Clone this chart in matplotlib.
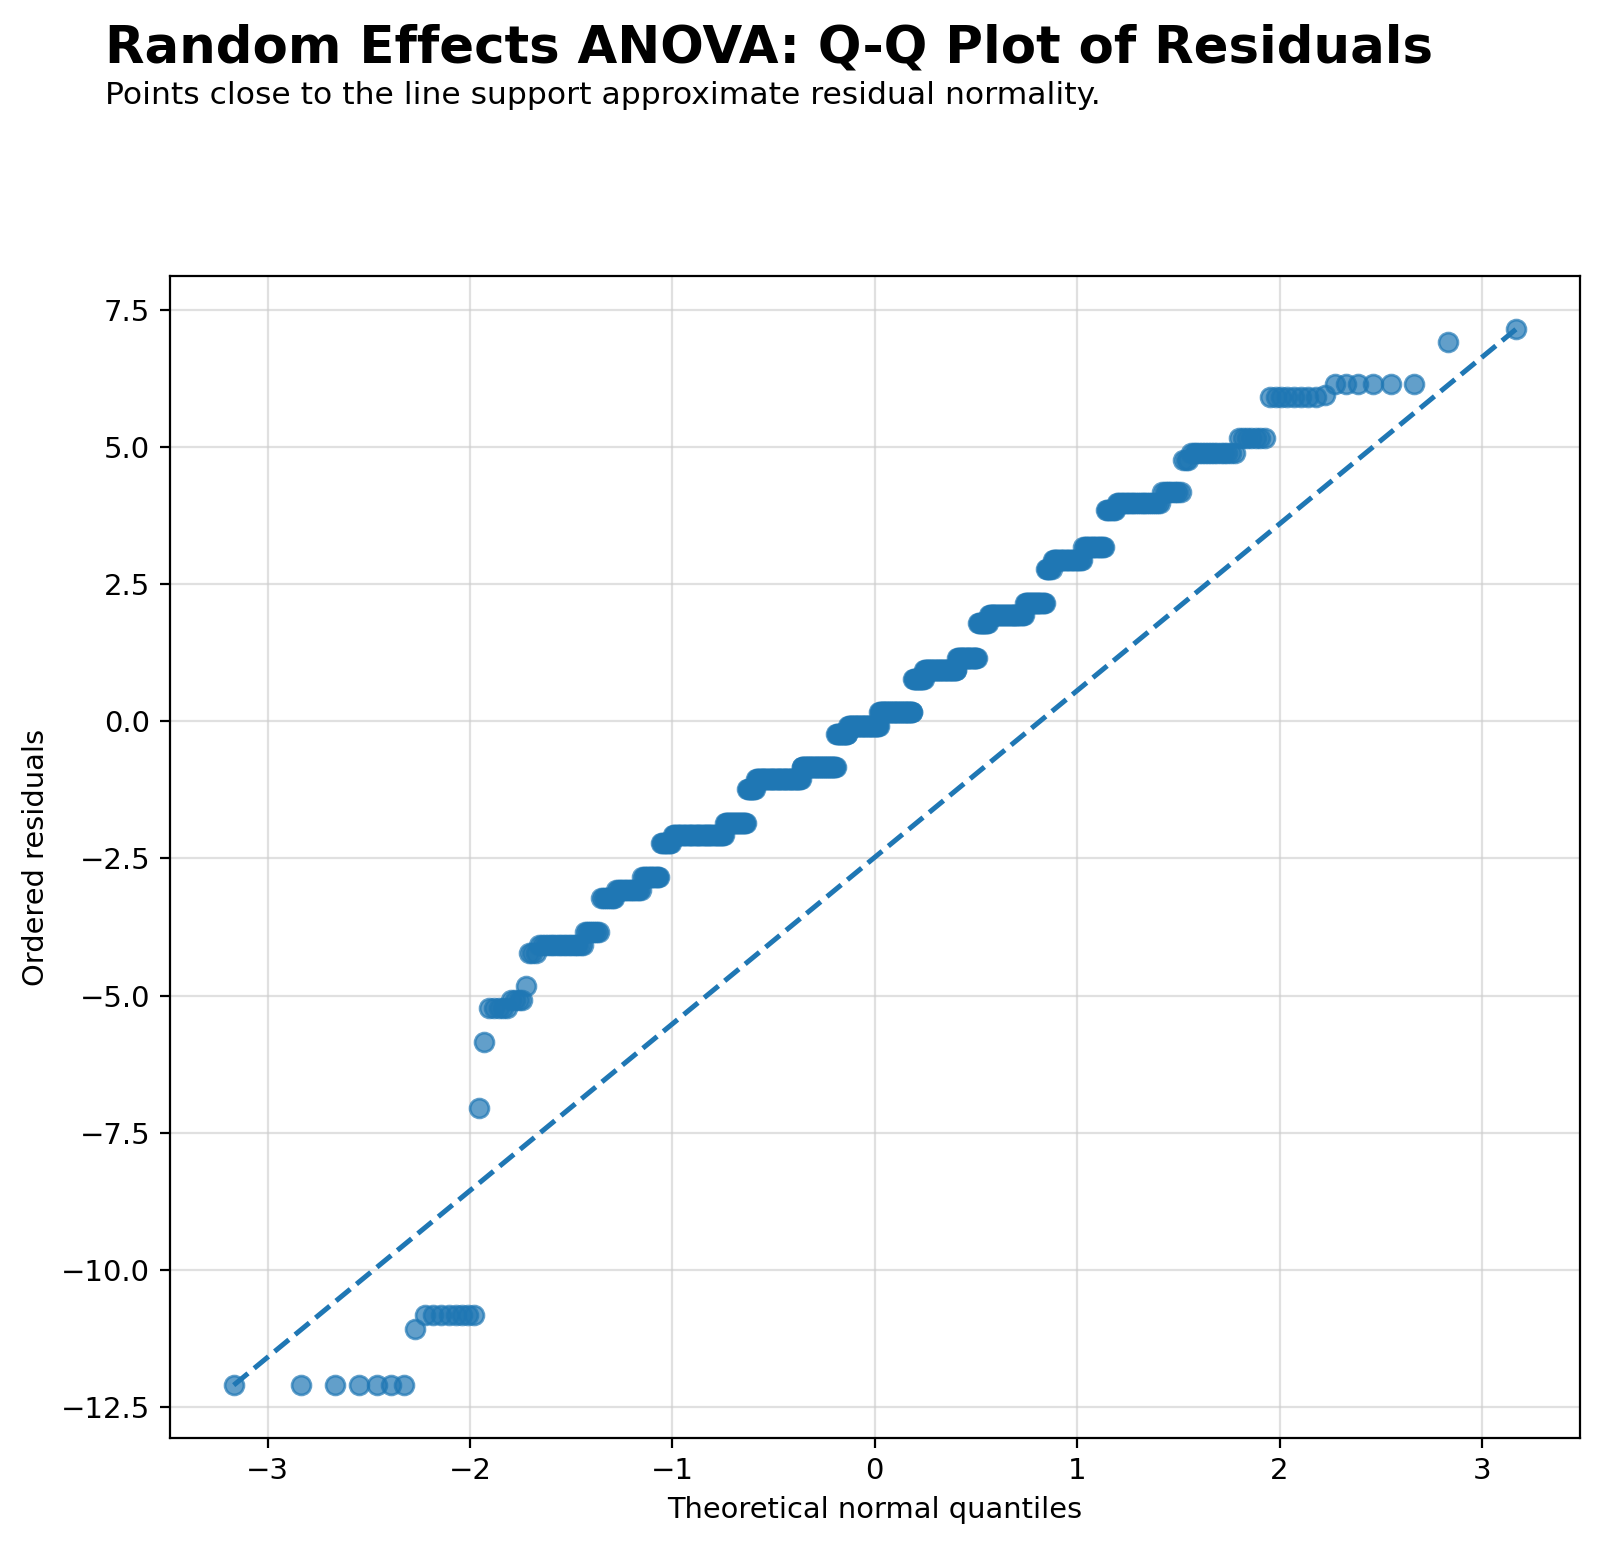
import numpy as np
import matplotlib
matplotlib.use("Agg")
import matplotlib.pyplot as plt
from statistics import NormalDist

# Distinct residual values (ordered) and how many residuals take each value
residual_levels = [-12.10, -11.08, -10.83, -7.05, -5.84, -5.22, -5.08, -4.83, -4.22,
                   -4.08, -3.84, -3.22, -3.08, -2.84, -2.23, -2.08, -1.85, -1.23,
                   -1.05, -0.835, -0.23, -0.08, 0.17, 0.775, 0.93, 1.15, 1.78, 1.93,
                   2.15, 2.78, 2.93, 3.18, 3.84, 3.97, 4.18, 4.75, 4.88, 5.15, 5.91,
                   5.94, 6.15, 6.91, 7.14]
level_counts = [7, 1, 8, 1, 1, 5, 4, 1, 3,
                18, 8, 8, 16, 13, 9, 46, 22, 10,
                52, 43, 15, 40, 43, 14, 40, 24, 12, 37,
                20, 6, 25, 16, 7, 25, 9, 3, 15, 7, 8,
                1, 6, 1, 1]

title = "Random Effects ANOVA: Q-Q Plot of Residuals"
subtitle = "Points close to the line support approximate residual normality."
xlabel = "Theoretical normal quantiles"
ylabel = "Ordered residuals"

resid = np.repeat(residual_levels, level_counts)
n = len(resid)
nd = NormalDist()
theo = np.array([nd.inv_cdf((i - 0.5) / n) for i in range(1, n + 1)])

color = "#1f77b4"
fig = plt.figure(figsize=(8, 7.745), dpi=200)
ax = fig.add_axes([0.106, 0.0717, 0.8815, 0.7498])
ax.scatter(theo, resid, s=46, color=color, alpha=0.7, edgecolors=color, linewidths=1.0, zorder=3)
ax.plot([theo[0], theo[-1]], [resid[0], resid[-1]], linestyle="--", color=color, linewidth=1.8, zorder=4)
ax.grid(True, color="#cccccc", alpha=0.6, linewidth=0.8)
ax.set_axisbelow(True)
ax.tick_params(labelsize=10.5)
ax.set_xlabel(xlabel, fontsize=10.4)
ax.set_ylabel(ylabel, fontsize=10.4)

fig.text(0.0655, 0.9595, title, fontsize=18.5, fontweight="bold", va="baseline", ha="left")
fig.text(0.0655, 0.9329, subtitle, fontsize=11.3, va="baseline", ha="left")

fig.savefig("out.png", dpi=200)
